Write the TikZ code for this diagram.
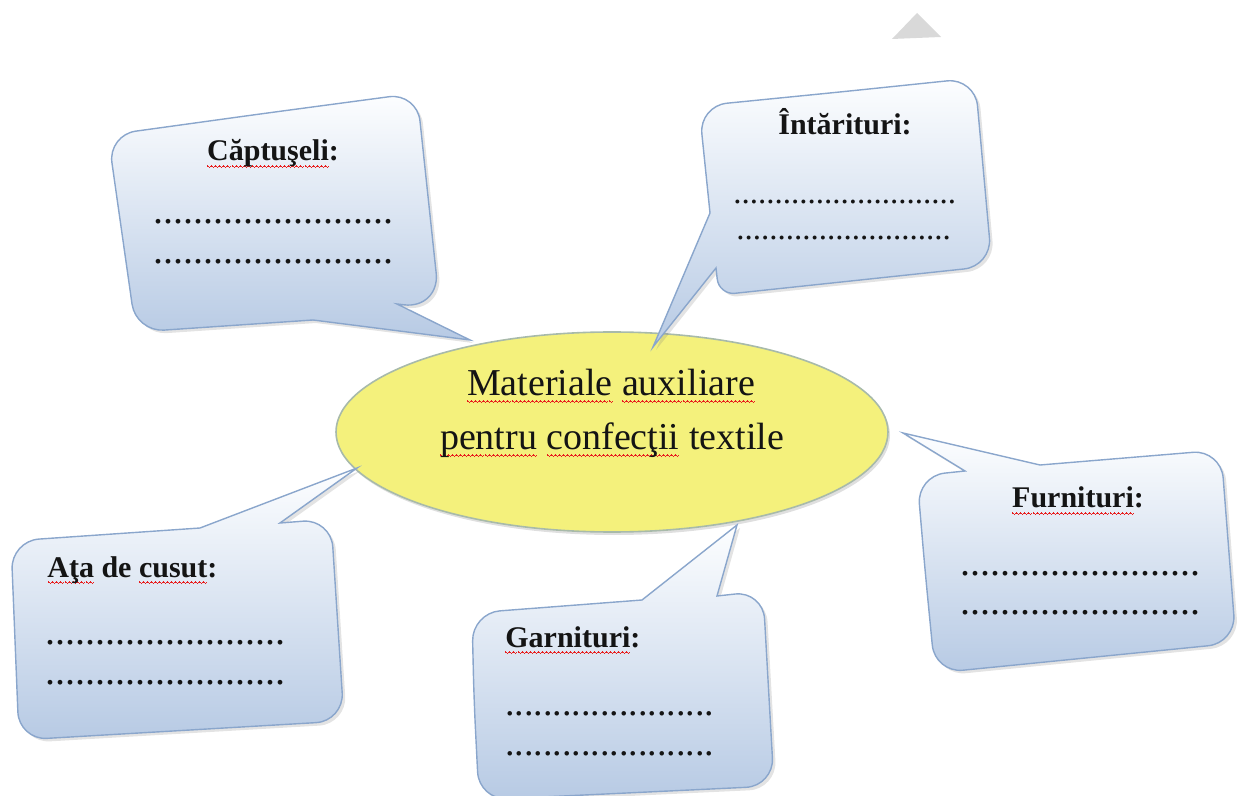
\documentclass[tikz,border=0pt]{standalone}
\usepackage{fontspec}
\setmainfont{Liberation Serif}
\usetikzlibrary{shadows}
\definecolor{ink}{RGB}{20,20,20}
\definecolor{bubbletop}{RGB}{253,254,255}
\definecolor{bubblebot}{RGB}{183,202,228}
\definecolor{bubbleedge}{RGB}{138,166,204}
\definecolor{hubfill}{RGB}{244,241,124}
\definecolor{hubedge}{RGB}{168,186,170}
\definecolor{marker}{RGB}{217,217,217}
\definecolor{spellred}{RGB}{232,30,30}
% red spelling squiggle under a word
\newcommand\spellwave[1]{\setbox0=\hbox{#1}\rlap{\color{spellred}\hbox to\wd0{\xleaders\hbox{%
  \vrule width0.5pt height-2.2pt depth2.8pt\vrule width0.5pt height-2.6pt depth3.2pt%
  \vrule width0.5pt height-3.0pt depth3.6pt\vrule width0.5pt height-2.6pt depth3.2pt}\hfil}}\box0{}}

\begin{document}
\begin{tikzpicture}[x=0.5pt, y=-0.5pt,
  bubble/.style={draw=bubbleedge, line width=0.7pt, rounded corners=14pt,
    top color=bubbletop, bottom color=bubblebot,
    drop shadow={shadow xshift=1.5pt, shadow yshift=-1.5pt, opacity=0.22}},
  hub/.style={draw=hubedge, line width=0.8pt, fill=hubfill,
    drop shadow={shadow xshift=1pt, shadow yshift=-1.5pt, opacity=0.25}},
  headtxt/.style={font=\fontsize{15}{18}\selectfont\bfseries, inner sep=0pt, text=ink},
  dottxt/.style={font=\fontsize{20}{24}\selectfont, inner sep=0pt, anchor=base west, text=ink},
  titletxt/.style={font=\fontsize{19}{23}\selectfont, inner sep=0pt, anchor=base, text=ink}]
\useasboundingbox (0,0) rectangle (1237,796);
\clip (0,0) rectangle (1237,796);

% grey marker at the top
\fill[marker] (892,39) -- (917,13) -- (941,37) -- cycle;

% central ellipse
\draw[hub] (612,432) ellipse [x radius=138pt, y radius=50pt];
\node[titletxt] (title1) at (611,396) {\spellwave{Materiale} \spellwave{auxiliare}};
\node[titletxt] (title2) at (612,450) {\spellwave{pentru} \spellwave{confecţii} textile};

% callout bubbles, tails toward the ellipse
\draw[bubble] (260,114) -- (417,93) [rounded corners=18pt] -- (440,309) [sharp corners] -- (397,304)
  -- (470,340) -- (313,320) [rounded corners=14pt] -- (136,332) -- (108,135) -- cycle;
\draw[bubble] (840,92) -- (975,78) -- (992,266) [rounded corners=8pt] -- (719,295) [sharp corners]
  -- (716,268) -- (653,347) -- (710,213) [rounded corners=14pt] -- (699,106) -- cycle;
\draw[bubble] (15,640) -- (11,541) [sharp corners] -- (200,528)
  -- (357,468) -- (280,523) [rounded corners=14pt] -- (331,519) -- (344,721) -- (19,740) -- cycle;
\draw[bubble] (474,700) -- (472,613) [sharp corners] -- (642,600)
  -- (737,525) -- (717,596) [rounded corners=14pt] -- (763,591) -- (774,786) -- (479,800) -- cycle;
\draw[bubble] (925,570) -- (917,476) [sharp corners] -- (965,471)
  -- (903,433) -- (1040,465) [rounded corners=14pt] -- (1221,450) -- (1236,643) -- (935,673) -- cycle;

% bubble texts
\node[headtxt, anchor=base] (cap) at (273,161) {\spellwave{Căptuşeli}:};
\node[dottxt] (capA) at (153,224) {........................};
\node[dottxt] (capB) at (153,264) {........................};

\node[headtxt, anchor=base] (int) at (845,135) {Întărituri:};
\node[dottxt, font=\fontsize{16.5}{20}\selectfont] (intA) at (733,204) {...........................};
\node[dottxt, font=\fontsize{16.5}{20}\selectfont] (intB) at (736,240) {..........................};

\node[headtxt, anchor=base west] (ata) at (47,577) {\spellwave{Aţa} de \spellwave{cusut}:};
\node[dottxt] (ataA) at (45,644) {........................};
\node[dottxt] (ataB) at (45,684) {........................};

\node[headtxt, anchor=base west] (gar) at (505,647) {\spellwave{Garnituri}:};
\node[dottxt, font=\fontsize{19}{23}\selectfont] (garA) at (505,715) {......................};
\node[dottxt, font=\fontsize{19}{23}\selectfont] (garB) at (505,755) {......................};

\node[headtxt, anchor=base] (fur) at (1078,508) {\spellwave{Furnituri}:};
\node[dottxt] (furA) at (960,575) {........................};
\node[dottxt] (furB) at (960,614) {........................};
\end{tikzpicture}
\end{document}
